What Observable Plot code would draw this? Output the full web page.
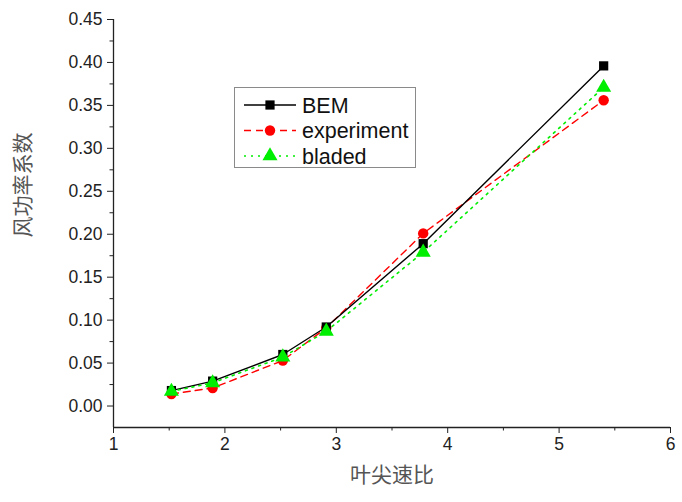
<!DOCTYPE html>
<html>
<head>
<meta charset="utf-8">
<script src="https://cdn.jsdelivr.net/npm/d3@7"></script>
<script src="https://cdn.jsdelivr.net/npm/@observablehq/plot@0.6"></script>
<style>
  html, body { margin: 0; padding: 0; background: #fff; }
  #wrap { position: relative; width: 682px; height: 502px; }
  #legend { position: absolute; left: 234px; top: 87px; width: 182px; height: 81px;
            border: 1px solid #8a8a8a; background: #fff; box-sizing: border-box; }
</style>
</head>
<body>
<div id="wrap"><div id="chart"></div><div id="legend"></div></div>
<script>
// ---- data ----
const tsr        = [1.52, 1.89, 2.52, 2.91, 3.78, 5.40];
const bem        = [0.018, 0.029, 0.060, 0.092, 0.189, 0.396];
const experiment = [0.014, 0.021, 0.053, 0.091, 0.201, 0.356];
const bladed     = [0.017, 0.027, 0.057, 0.087, 0.179, 0.371];
const seriesNames = ["BEM", "experiment", "bladed"];
const xTicks = [1, 2, 3, 4, 5, 6];
const yTicks = [0, 0.05, 0.10, 0.15, 0.20, 0.25, 0.30, 0.35, 0.40, 0.45];
const xLabel = "叶尖速比";
const yLabel = "风功率系数";

// ---- styles ----
const styles = {
  BEM:        {color: "#000000", symbol: "square",   r: 5.2, dash: null,  width: 1.4},
  experiment: {color: "#ff0000", symbol: "circle",   r: 5.2, dash: "7,5", width: 1.4},
  bladed:     {color: "#00ee00", symbol: "triangle", r: 5.6, dash: "2,5", width: 1.6}
};
const values = {BEM: bem, experiment: experiment, bladed: bladed};
const rows = s => tsr.map((x, i) => ({x, y: values[s][i], s}));

const xMinor = d3.range(1.5, 6, 1);
const yMinor = d3.range(0.025, 0.45, 0.05);
const tickFont = "Liberation Sans, Arial, sans-serif";
const cjkFont = "Noto Sans CJK SC, sans-serif";

const drawOrder = ["experiment", "BEM", "bladed"];
const marks = [];
// axis lines
marks.push(Plot.ruleX([1], {stroke: "#222", strokeWidth: 1.3}));
marks.push(Plot.ruleY([-0.025], {stroke: "#222", strokeWidth: 1.3}));
// major + minor ticks
marks.push(Plot.axisX({ticks: xTicks, tickSize: 6, tickPadding: 4, tickFormat: d => d, fontSize: 17.5, fontFamily: tickFont, color: "#222", label: null}));
marks.push(Plot.axisX({ticks: xMinor, tickSize: 3.5, tickFormat: () => "", label: null, color: "#222"}));
marks.push(Plot.axisY({ticks: yTicks, tickSize: 6, tickPadding: 5, tickFormat: d3.format(".2f"), fontSize: 17.5, fontFamily: tickFont, color: "#222", label: null}));
marks.push(Plot.axisY({ticks: yMinor, tickSize: 3.5, tickFormat: () => "", label: null, color: "#222"}));
// axis titles
marks.push(Plot.text([xLabel], {text: d => d, frameAnchor: "bottom", dy: 54, fontSize: 21, fontFamily: cjkFont, fill: "#555"}));
marks.push(Plot.text([yLabel], {text: d => d, frameAnchor: "left", dx: -90, dy: 14, rotate: -90, fontSize: 21, fontFamily: cjkFont, fill: "#555"}));

for (const s of drawOrder) {
  const st = styles[s];
  marks.push(Plot.line(rows(s), {x: "x", y: "y", stroke: st.color, strokeWidth: st.width, strokeDasharray: st.dash}));
}
for (const s of drawOrder) {
  const st = styles[s];
  marks.push(Plot.dot(rows(s), {x: "x", y: "y", symbol: () => st.symbol, r: st.r, fill: st.color, stroke: "none"}));
}

const chart = Plot.plot({
  width: 682,
  height: 502,
  marginLeft: 113,
  marginRight: 12,
  marginTop: 19,
  marginBottom: 75,
  style: {background: "#fff"},
  x: {domain: [1, 6]},
  y: {domain: [-0.025, 0.45]},
  symbol: {type: "identity"},
  marks
});
document.getElementById("chart").appendChild(chart);

// ---- legend ----
const leg = d3.select("#legend");
const lsvg = leg.append("svg").attr("width", 182).attr("height", 81);
seriesNames.forEach((s, i) => {
  const st = styles[s];
  const cy = 17 + i * 25.5;
  const g = lsvg.append("g");
  g.append("line").attr("x1", 9).attr("x2", 61).attr("y1", cy).attr("y2", cy)
    .attr("stroke", st.color).attr("stroke-width", st.width)
    .attr("stroke-dasharray", st.dash);
  const sym = {square: d3.symbolSquare, circle: d3.symbolCircle, triangle: d3.symbolTriangle}[st.symbol];
  g.append("path").attr("d", d3.symbol(sym, Math.PI * st.r * st.r)())
    .attr("transform", `translate(35,${cy})`).attr("fill", st.color);
  g.append("text").attr("x", 67).attr("y", cy).attr("dy", "0.36em")
    .attr("font-family", tickFont).attr("font-size", 21.5).attr("fill", "#111").text(s);
});
</script>
</body>
</html>
